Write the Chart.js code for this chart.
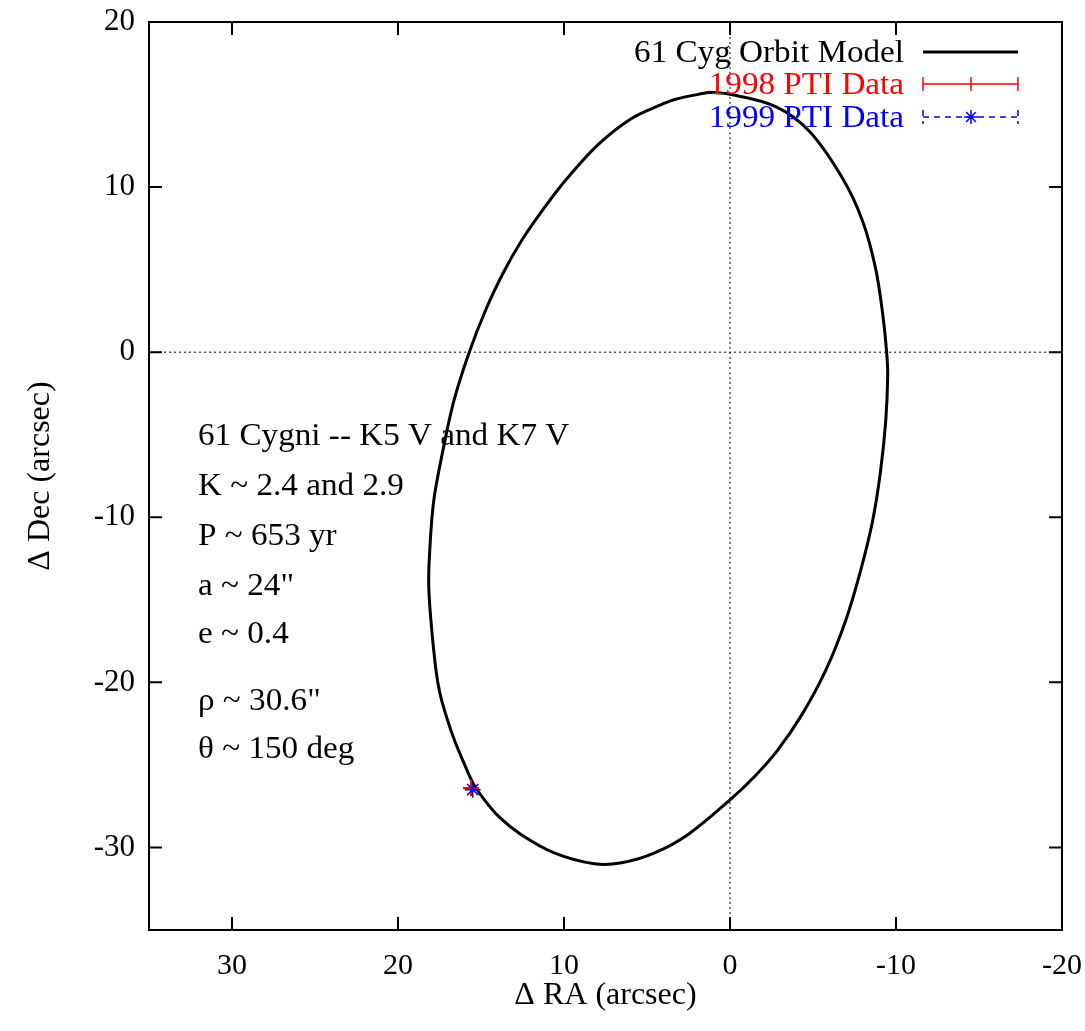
<!DOCTYPE html>
<html><head><meta charset="utf-8">
<script src="https://cdn.jsdelivr.net/npm/chart.js@4/dist/chart.umd.min.js"></script>
<style>html,body{margin:0;padding:0;background:#fff;}#wrap{width:1085px;height:1031px;position:relative;}</style>
</head><body><div id="wrap"><canvas id="c" width="1085" height="1031"></canvas></div>
<script>
// ---- data ----
const orbitRA  = [1.27, 0.00, -2.72, -4.78, -6.78, -7.99, -8.77, -9.20, -9.44, -9.50, -9.38, -9.07, -8.59, -7.86, -6.96, -5.75, -4.36, -2.84, -1.51, 0.00, 2.48, 4.54, 6.53, 8.17, 10.59, 12.64, 13.91, 14.88, 15.49, 16.03, 16.58, 17.06, 17.48, 17.73, 18.03, 18.15, 18.09, 17.85, 17.30, 16.64, 15.73, 14.70, 13.61, 12.58, 11.43, 9.86, 7.93, 5.93, 4.11, 3.33, 1.27];
const orbitDec = [15.74, 15.62, 14.89, 13.38, 10.53, 7.93, 5.08, 2.30, -0.06, -1.45, -4.18, -7.20, -10.23, -13.26, -16.28, -19.31, -21.91, -24.15, -25.67, -27.12, -29.18, -30.33, -30.93, -30.99, -30.33, -29.18, -28.15, -27.00, -26.09, -24.88, -23.55, -22.15, -20.64, -19.13, -16.10, -14.04, -12.05, -9.02, -5.99, -2.97, -0.06, 2.60, 4.90, 6.72, 8.41, 10.47, 12.59, 14.16, 15.01, 15.31, 15.74];
const pti1998RA  = [15.6];
const pti1998Dec = [-26.4];
const pti1999RA  = [15.5];
const pti1999Dec = [-26.5];
const xTickValues = [30, 20, 10, 0, -10, -20];
const yTickValues = [20, 10, 0, -10, -20, -30];
const seriesLabels = ['61 Cyg Orbit Model', '1998 PTI Data', '1999 PTI Data'];
const seriesColors = ['#000000', '#ff0000', '#0000ff'];
const noteLines = ['61 Cygni -- K5 V and K7 V', 'K ~ 2.4 and 2.9', 'P ~ 653 yr', 'a ~ 24"', 'e ~ 0.4', 'ρ ~ 30.6"', 'θ ~ 150 deg'];
const xTitle = 'Δ RA (arcsec)';
const yTitle = 'Δ Dec (arcsec)';

const toPts = (xs, ys) => xs.map((x, i) => ({x: x, y: ys[i]}));
const SERIF = '"Liberation Serif", "DejaVu Serif", serif';
const STRETCH = 1.07;

function stretchedText(ctx, text, x, y, align) {
  ctx.save();
  ctx.translate(x, y);
  ctx.scale(STRETCH, 1);
  ctx.textAlign = align;
  ctx.fillText(text, 0, 0);
  ctx.restore();
}

const overlay = {
  id: 'overlay',
  beforeDatasetsDraw(chart) {
    const {ctx, chartArea: a, scales: {x, y}} = chart;
    ctx.save();
    ctx.strokeStyle = '#000';
    ctx.lineWidth = 1;
    ctx.setLineDash([2, 3]);
    const x0 = x.getPixelForValue(0), y0 = y.getPixelForValue(0);
    ctx.beginPath();
    ctx.moveTo(x0, a.top); ctx.lineTo(x0, a.bottom);
    ctx.moveTo(a.left, y0); ctx.lineTo(a.right, y0);
    ctx.stroke();
    ctx.restore();
  },
  afterDraw(chart) {
    const {ctx, chartArea: a, scales: {x, y}} = chart;
    ctx.save();
    ctx.strokeStyle = '#000';
    ctx.lineWidth = 2;
    ctx.strokeRect(a.left, a.top, a.right - a.left, a.bottom - a.top);
    const tl = 13;
    ctx.beginPath();
    xTickValues.forEach(v => {
      const px = x.getPixelForValue(v);
      ctx.moveTo(px, a.bottom); ctx.lineTo(px, a.bottom - tl);
      ctx.moveTo(px, a.top); ctx.lineTo(px, a.top + tl);
    });
    yTickValues.forEach(v => {
      const py = y.getPixelForValue(v);
      ctx.moveTo(a.left, py); ctx.lineTo(a.left + tl, py);
      ctx.moveTo(a.right, py); ctx.lineTo(a.right - tl, py);
    });
    ctx.stroke();

    // legend (gnuplot style, top right)
    ctx.font = '31px ' + SERIF;
    ctx.textBaseline = 'alphabetic';
    const textRight = 904, sx0 = 923, sx1 = 1018, smid = 971;
    const rowsY = [52, 84, 117];
    seriesLabels.forEach((lab, i) => {
      ctx.fillStyle = seriesColors[i];
      stretchedText(ctx, lab, textRight, rowsY[i] + 10, 'right');
    });
    ctx.setLineDash([]);
    ctx.strokeStyle = seriesColors[0];
    ctx.lineWidth = 3;
    ctx.beginPath(); ctx.moveTo(sx0, rowsY[0]); ctx.lineTo(sx1, rowsY[0]); ctx.stroke();
    ctx.strokeStyle = seriesColors[1];
    ctx.lineWidth = 1.5;
    ctx.beginPath();
    ctx.moveTo(sx0, rowsY[1]); ctx.lineTo(sx1, rowsY[1]);
    ctx.moveTo(sx0, rowsY[1] - 7); ctx.lineTo(sx0, rowsY[1] + 7);
    ctx.moveTo(sx1, rowsY[1] - 7); ctx.lineTo(sx1, rowsY[1] + 7);
    ctx.moveTo(smid, rowsY[1] - 7); ctx.lineTo(smid, rowsY[1] + 7);
    ctx.stroke();
    ctx.strokeStyle = seriesColors[2];
    ctx.setLineDash([6, 5]);
    ctx.beginPath();
    ctx.moveTo(sx0, rowsY[2]); ctx.lineTo(sx1, rowsY[2]);
    ctx.moveTo(sx0, rowsY[2] - 7); ctx.lineTo(sx0, rowsY[2] + 7);
    ctx.moveTo(sx1, rowsY[2] - 7); ctx.lineTo(sx1, rowsY[2] + 7);
    ctx.stroke();
    ctx.setLineDash([]);
    ctx.beginPath();
    const r = 7;
    for (let k = 0; k < 4; k++) {
      const ang = k * Math.PI / 4;
      ctx.moveTo(smid - r * Math.cos(ang), rowsY[2] - r * Math.sin(ang));
      ctx.lineTo(smid + r * Math.cos(ang), rowsY[2] + r * Math.sin(ang));
    }
    ctx.stroke();

    // annotation text block
    ctx.fillStyle = '#000';
    ctx.font = '31px ' + SERIF;
    const noteBase = [445, 495, 545, 595, 643, 710, 758];
    noteLines.forEach((t, i) => stretchedText(ctx, t, 198, noteBase[i], 'left'));
    ctx.restore();
  }
};

new Chart(document.getElementById('c'), {
  type: 'scatter',
  data: {
    datasets: [
      {
        label: seriesLabels[0],
        data: toPts(orbitRA, orbitDec),
        showLine: true,
        borderColor: seriesColors[0],
        borderWidth: 3,
        pointRadius: 0,
        tension: 0.35,
        fill: false,
        order: 2
      },
      {
        label: seriesLabels[1],
        data: toPts(pti1998RA, pti1998Dec),
        pointStyle: 'cross',
        pointRadius: 8,
        borderColor: seriesColors[1],
        backgroundColor: seriesColors[1],
        pointBorderWidth: 2,
        order: 1
      },
      {
        label: seriesLabels[2],
        data: toPts(pti1999RA, pti1999Dec),
        pointStyle: 'star',
        pointRadius: 8,
        borderColor: seriesColors[2],
        backgroundColor: seriesColors[2],
        pointBorderWidth: 1.5,
        order: 0
      }
    ]
  },
  options: {
    responsive: false,
    animation: false,
    devicePixelRatio: 1,
    layout: {padding: {left: 0, top: 22, right: 23, bottom: 0}},
    plugins: {legend: {display: false}, tooltip: {enabled: false}},
    scales: {
      x: {
        type: 'linear', position: 'bottom', reverse: true, min: -20, max: 35,
        afterBuildTicks: s => { s.ticks = xTickValues.map(v => ({value: v})); },
        afterFit: s => { s.height = 101; s.paddingLeft = 0; s.paddingRight = 0; },
        grid: {display: false, drawTicks: false, tickLength: 0},
        border: {display: false},
        ticks: {color: '#000', font: {family: SERIF, size: 30}, padding: 18, maxRotation: 0, autoSkip: false,
                callback: v => String(v)},
        title: {display: true, text: xTitle, color: '#000', font: {family: SERIF, size: 32}, padding: {top: 0, bottom: 16}}
      },
      y: {
        type: 'linear', position: 'left', min: -35, max: 20,
        afterBuildTicks: s => { s.ticks = yTickValues.map(v => ({value: v})); },
        afterFit: s => { s.width = 149; s.paddingTop = 0; s.paddingBottom = 0; },
        grid: {display: false, drawTicks: false, tickLength: 0},
        border: {display: false},
        ticks: {color: '#000', font: {family: SERIF, size: 31}, padding: 14, autoSkip: false,
                callback: v => String(v)},
        title: {display: true, text: yTitle, color: '#000', font: {family: SERIF, size: 32}, padding: {top: 21, bottom: 0}}
      }
    }
  },
  plugins: [overlay]
});
</script>
</body></html>
